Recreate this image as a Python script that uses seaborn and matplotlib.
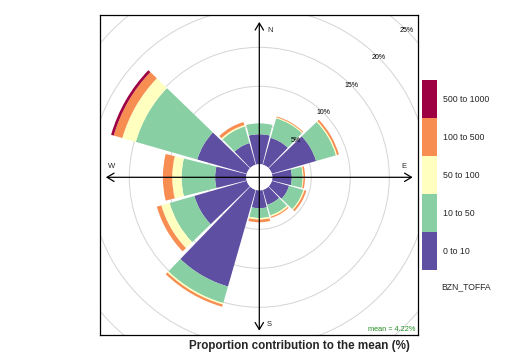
import numpy as np
import matplotlib
matplotlib.use("Agg")
import matplotlib.pyplot as plt
import seaborn as sns
from matplotlib.colors import ListedColormap, BoundaryNorm
from matplotlib.cm import ScalarMappable
from matplotlib.patches import Circle

sns.set_theme(style="white")
plt.rcParams['font.family'] = ['Liberation Sans', 'DejaVu Sans']

# ---------------------------------------------------------
# data: proportion contribution to the mean (%) by wind sector
# ---------------------------------------------------------
directions = [0, 30, 60, 90, 120, 150, 180, 210, 240, 270, 300, 330]
band_labels = ["0 to 10", "10 to 50", "50 to 100", "100 to 500", "500 to 1000"]
band_0_10 = [3.85, 3.6, 5.9, 2.5, 2.3, 2.0, 2.3, 12.9, 7.0, 4.0, 6.6, 2.9]
band_10_50 = [1.4, 2.6, 2.65, 1.4, 1.9, 1.4, 1.25, 2.2, 3.3, 4.3, 8.2, 2.2]
band_50_100 = [0.0, 0.12, 0.15, 0.1, 0.15, 0.2, 0.2, 0.2, 1.1, 1.2, 1.8, 0.2]
band_100_500 = [0.0, 0.12, 0.25, 0.2, 0.25, 0.15, 0.35, 0.3, 0.6, 1.2, 1.15, 0.4]
band_500_1000 = [0.0, 0.0, 0.0, 0.0, 0.0, 0.0, 0.0, 0.0, 0.0, 0.0, 0.35, 0.0]
ring_levels = [5, 10, 15, 20, 25]
mean_text = "mean = 4.22%"
pollutant = "BZN_TOFFA"
title = "Proportion contribution to the mean (%)"

bands = [band_0_10, band_10_50, band_50_100, band_100_500, band_500_1000]
colors = sns.color_palette(["#5E4FA2", "#88CFA4", "#FFFFBF", "#F88D52", "#9E0142"])

# ---------------------------------------------------------
# layout (pixels)
# ---------------------------------------------------------
W, H = 506, 362
cx, cy = 259.3, 177.3          # rose centre
px_per_pct = 7.8
hole_px = 13.0
hole = hole_px / px_per_pct
rmax = 26
arrow_pct = 18.0

fig = plt.figure(figsize=(W / 100, H / 100), dpi=100)

fx0, fx1, fy0, fy1 = 100, 418, 15, 335
box = [fx0 / W, (H - fy1) / H, (fx1 - fx0) / W, (fy1 - fy0) / H]


def pixel_axes(frame):
    a = fig.add_axes(box)
    a.set_xlim(fx0 - cx, fx1 - cx)
    a.set_ylim(cy - fy1, cy - fy0)
    a.set_facecolor('none')
    a.set_xticks([])
    a.set_yticks([])
    for s in a.spines.values():
        s.set_visible(frame)
        s.set_color('black')
        s.set_linewidth(0.9)
    return a


# bottom layer: background rings, clipped by the box
bax = pixel_axes(False)
bax.set_facecolor('white')
for lev in ring_levels:
    c = bax.add_patch(Circle((0, 0), hole_px + lev * px_per_pct, fill=False,
                             edgecolor='#d4d4d4', lw=0.7))
    c.set_clip_path(bax.patch)

# middle layer: polar axes carrying the rose
R = (rmax + hole) * px_per_pct
ax = fig.add_axes([(cx - R) / W, (H - cy - R) / H, 2 * R / W, 2 * R / H], projection='polar')
ax.set_theta_zero_location('N')
ax.set_theta_direction(-1)
ax.set_rorigin(-hole)
ax.set_rlim(0, rmax)
ax.set_axis_off()
ax.patch.set_alpha(0)

theta = np.deg2rad(directions)
bottom = np.zeros(len(directions))
for vals, col in zip(bands, colors):
    ax.bar(theta, vals, width=np.deg2rad(28), bottom=bottom, color=col, edgecolor='none', linewidth=0)
    bottom = bottom + np.array(vals)

# top layer: box, arrows, labels
fax = pixel_axes(True)
for lev in ring_levels:
    rr = (hole_px + lev * px_per_pct) / np.sqrt(2)
    fax.text(rr, rr, f"{lev}%", ha='center', va='center', fontsize=5, color='black')

L = hole_px + arrow_pct * px_per_pct
ap = dict(arrowstyle='<->,head_length=0.5,head_width=0.3', lw=0.9, color='black',
          shrinkA=0, shrinkB=0, mutation_scale=10)
fax.annotate('', xy=(-L, 0), xytext=(L, 0), arrowprops=ap)
fax.annotate('', xy=(0, -L), xytext=(0, L + 2), arrowprops=ap)
fs = 5.5
fax.text(10.7, 147.3, "N", fontsize=fs, ha='center', va='center')
fax.text(144.7, 10.3, "E", fontsize=fs, ha='center', va='center')
fax.text(-147.3, 10.3, "W", fontsize=fs, ha='center', va='center')
fax.text(9.7, -146.7, "S", fontsize=fs, ha='center', va='center')
fax.text(fx1 - cx - 3, cy - fy1 + 2, mean_text, fontsize=5.3, color='forestgreen', ha='right', va='bottom')

# legend as colour key
cax = fig.add_axes([422 / W, (H - 270) / H, 15 / W, 190 / H])
cmap = ListedColormap(colors)
norm = BoundaryNorm(np.arange(6), 5)
cb = fig.colorbar(ScalarMappable(norm=norm, cmap=cmap), cax=cax)
cb.set_ticks(np.arange(5) + 0.5)
cb.set_ticklabels(band_labels)
cb.minorticks_off()
cb.outline.set_visible(False)
cax.tick_params(which='both', length=0, labelsize=6.3, pad=4)
fig.text(441 / W, 1 - 287 / H, pollutant, fontsize=6.2, ha='left', va='center')

fig.text(299 / W, 1 - 346 / H, title, fontsize=8.4, fontweight='bold', ha='center', va='center')

fig.savefig("out.png", dpi=100, facecolor='white')
